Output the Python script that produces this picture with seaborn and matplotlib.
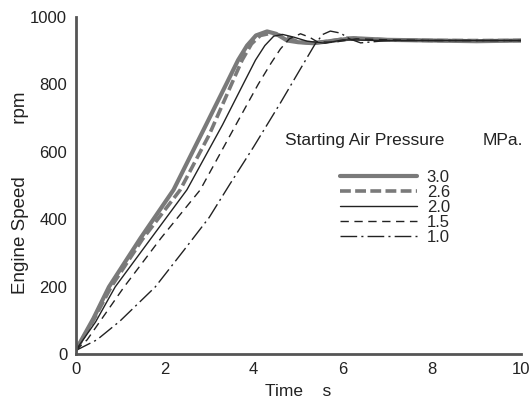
import pandas as pd
import matplotlib
matplotlib.use('Agg')
import matplotlib.pyplot as plt
import seaborn as sns

# values (time in s, engine speed in rpm)
t_30 = [0, 0.4, 0.75, 1.46, 2.2, 2.9, 3.4, 3.65, 3.85, 4.05, 4.3, 4.5, 4.75, 5.0, 5.34, 5.7, 6.24, 7.0, 8.0, 9.0, 10.0]
n_30 = [10, 105, 199, 344, 487, 672, 805, 872, 915, 945, 957, 950, 930, 925, 922, 928, 937, 932, 930, 928, 930]

t_26 = [0, 0.4, 0.8, 1.5, 2.35, 3.0, 3.5, 3.74, 3.95, 4.15, 4.4, 4.7, 5.0, 5.3, 5.7, 6.1, 7.0, 8.0, 9.0, 10.0]
n_26 = [10, 100, 199, 340, 487, 650, 800, 872, 920, 945, 952, 942, 926, 922, 928, 937, 932, 930, 930, 930]

t_20 = [0, 0.45, 0.89, 1.7, 2.5, 3.3, 3.8, 4.04, 4.25, 4.45, 4.65, 4.9, 5.2, 5.6, 6.0, 7.0, 8.0, 9.0, 10.0]
n_20 = [10, 95, 199, 344, 487, 680, 810, 872, 915, 943, 948, 940, 928, 922, 932, 930, 930, 930, 930]

t_15 = [0, 0.26, 1.09, 1.92, 2.8, 3.6, 4.1, 4.39, 4.6, 4.8, 5.05, 5.25, 5.43, 5.8, 6.3, 7.0, 8.0, 9.0, 10.0]
n_15 = [10, 42, 199, 344, 487, 680, 800, 863, 905, 935, 950, 940, 926, 925, 935, 932, 930, 930, 930]

t_10 = [0, 0.48, 1.0, 1.79, 2.44, 3.0, 3.47, 4.0, 4.6, 5.0, 5.38, 5.55, 5.72, 5.95, 6.15, 6.4, 7.0, 8.0, 9.0, 10.0]
n_10 = [10, 42, 98, 199, 309, 405, 505, 615, 745, 835, 920, 948, 958, 952, 935, 923, 930, 930, 930, 930]

labels = ['3.0', '2.6', '2.0', '1.5', '1.0']
series = [(t_30, n_30), (t_26, n_26), (t_20, n_20), (t_15, n_15), (t_10, n_10)]
styles = [
    dict(color='#7a7a7a', lw=3.0, linestyle='-'),
    dict(color='#7a7a7a', lw=2.6, linestyle=(0, (3.0, 1.2))),
    dict(color='#222222', lw=1.0, linestyle='-'),
    dict(color='#222222', lw=1.0, linestyle=(0, (6, 4))),
    dict(color='#222222', lw=1.0, linestyle=(0, (12, 3, 1.5, 3))),
]

sns.set_style('white')
plt.rcParams['font.family'] = ['Liberation Sans', 'DejaVu Sans']

fig = plt.figure(figsize=(5.3, 4.03), dpi=100)
ax = fig.add_axes([0.1425, 0.1216, 0.8405, 0.8364])

for (t, n), lab, st in zip(series, labels, styles):
    sns.lineplot(x=t, y=n, ax=ax, label=lab, sort=False, **st)

ax.set_xlim(0, 10)
ax.set_ylim(0, 1000)
ax.set_xticks([0, 2, 4, 6, 8, 10])
ax.set_yticks([0, 200, 400, 600, 800, 1000])
for s in ['top', 'right']:
    ax.spines[s].set_visible(False)
for s in ['left', 'bottom']:
    ax.spines[s].set_color('#555555')
    ax.spines[s].set_linewidth(2.0)
ax.tick_params(direction='in', length=6, width=1.5, color='#555555',
               labelsize=12, labelcolor='#222222', pad=6)

ax.set_xlabel('Time    s', fontsize=12.5, color='#222222', labelpad=5)
ax.set_ylabel('Engine Speed          rpm', fontsize=13.5, color='#222222')
ax.yaxis.set_label_coords(-0.105, 0.479)

ax.text(0.47, 0.632, 'Starting Air Pressure', transform=ax.transAxes,
        fontsize=12.5, color='#222222', va='center')
ax.text(0.913, 0.632, 'MPa.', transform=ax.transAxes,
        fontsize=12.5, color='#222222', va='center')

ax.legend(loc='upper left', bbox_to_anchor=(0.575, 0.572), frameon=False,
          fontsize=12, handlelength=4.6, handletextpad=0.6,
          labelspacing=0.0, borderpad=0)

fig.savefig('out.png', dpi=100)
